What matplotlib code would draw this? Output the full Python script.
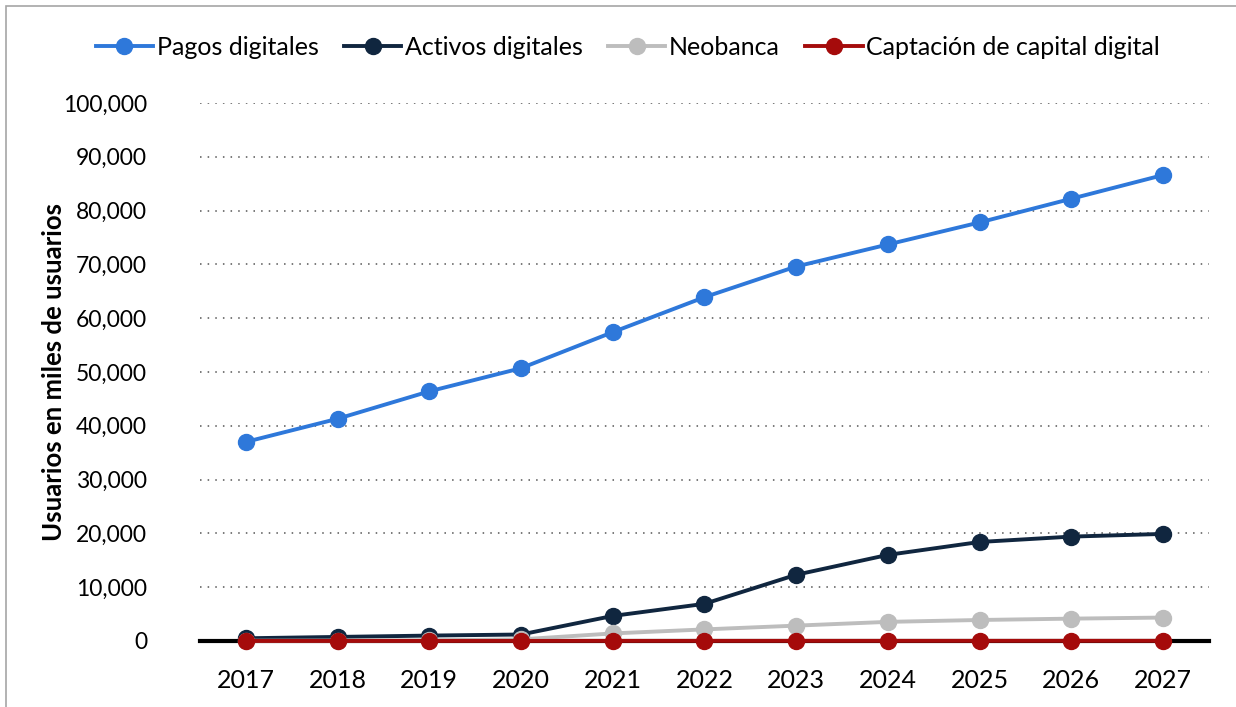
import matplotlib.pyplot as plt
from matplotlib.patches import Rectangle
from matplotlib.ticker import FuncFormatter

plt.rcParams['font.family'] = ['Lato', 'DejaVu Sans']

years = ['2017', '2018', '2019', '2020', '2021', '2022', '2023', '2024', '2025', '2026', '2027']
pagos = [37000, 41300, 46400, 50700, 57400, 63900, 69600, 73700, 77800, 82200, 86600]
activos = [500, 750, 1000, 1200, 4650, 6900, 12300, 16000, 18400, 19400, 19900]
neobanca = [50, 80, 120, 300, 1400, 2150, 2850, 3550, 3900, 4150, 4350]
captacion = [5, 8, 10, 12, 15, 18, 20, 22, 24, 26, 28]

series = [
    ('Pagos digitales', pagos, '#2E78DA'),
    ('Activos digitales', activos, '#10263F'),
    ('Neobanca', neobanca, '#BDBDBD'),
    ('Captación de capital digital', captacion, '#A50B0B'),
]

fs = 18

fig = plt.figure(figsize=(12.36, 7.07), dpi=100)
ax = fig.add_axes([0.1618, 0.0934, 0.8162, 0.7609])

x = list(range(len(years)))
for name, vals, color in series:
    ax.plot(x, vals, color=color, linewidth=2.8, marker='o', markersize=11.5,
            label=name, clip_on=False, zorder=3)

ax.set_xlim(-0.5, len(years) - 0.5)
ax.set_ylim(0, 100000)
ax.set_yticks(range(0, 100001, 10000))
ax.yaxis.set_major_formatter(FuncFormatter(lambda v, p: '{:,.0f}'.format(v)))
ax.set_xticks(x)
ax.set_xticklabels(years)
ax.tick_params(axis='both', length=0, labelsize=fs, colors='black')
ax.tick_params(axis='x', pad=20)
ax.tick_params(axis='y', labelsize=16.5, pad=38)

ax.grid(axis='y', linestyle=(0, (1, 4)), color='#555555', linewidth=1.1)
ax.grid(axis='x', visible=False)
for side in ['top', 'right', 'left']:
    ax.spines[side].set_visible(False)
ax.spines['bottom'].set_linewidth(3)
ax.spines['bottom'].set_color('black')
ax.spines['bottom'].set_zorder(2)

ax.set_ylabel('Usuarios en miles de usuarios', fontsize=18.5, fontweight='bold')
ax.yaxis.set_label_coords(-0.133, 0.5)

fig.legend(loc='center', bbox_to_anchor=(0.508, 0.933), ncol=4, frameon=False,
           fontsize=fs, handlelength=2.3, handletextpad=0.15, columnspacing=1.0)

# light border around the chart
fig.patches.append(Rectangle((6 / 1236, -0.01), 1.2, 1 - 6 / 707 + 0.01, transform=fig.transFigure,
                             fill=False, edgecolor='#A6A6A6', linewidth=1.2))

fig.savefig('out.png', dpi=100)
